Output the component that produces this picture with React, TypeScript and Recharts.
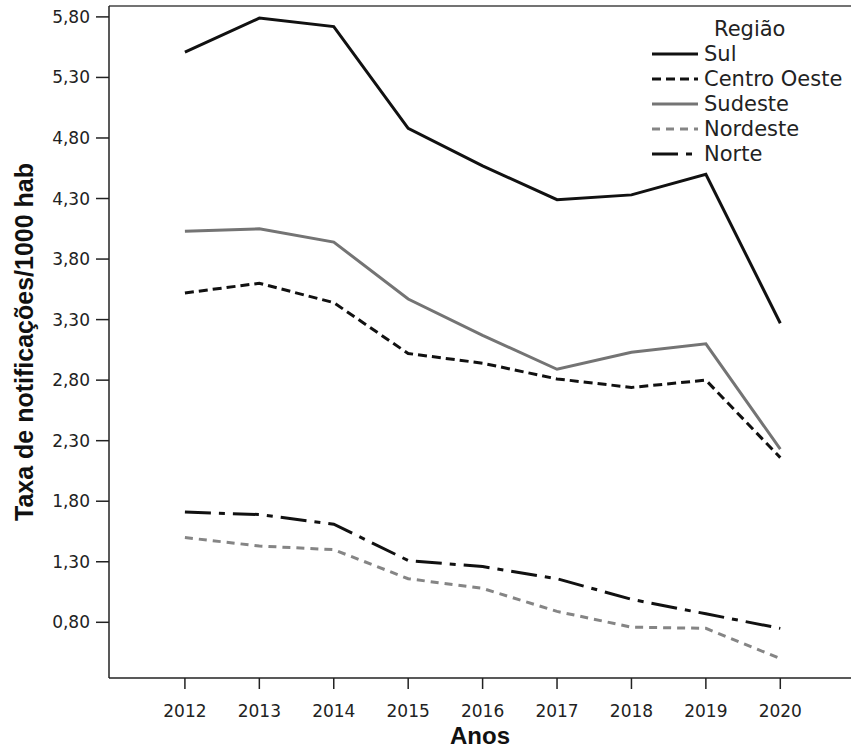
import React from 'react';
import {
  LineChart,
  Line,
  XAxis,
  YAxis,
  Legend,
  ReferenceLine,
} from 'recharts';

// anos e taxas por região
const years = [2012, 2013, 2014, 2015, 2016, 2017, 2018, 2019, 2020];
const sul = [5.51, 5.79, 5.72, 4.88, 4.57, 4.29, 4.33, 4.5, 3.27];
const centroOeste = [3.52, 3.6, 3.44, 3.02, 2.94, 2.81, 2.74, 2.8, 2.16];
const sudeste = [4.03, 4.05, 3.94, 3.47, 3.17, 2.89, 3.03, 3.1, 2.23];
const nordeste = [1.5, 1.43, 1.4, 1.16, 1.08, 0.89, 0.76, 0.75, 0.5];
const norte = [1.71, 1.69, 1.61, 1.31, 1.26, 1.16, 0.99, 0.87, 0.75];

const yTicks = [0.8, 1.3, 1.8, 2.3, 2.8, 3.3, 3.8, 4.3, 4.8, 5.3, 5.8];

const Y_MIN = 0.34;
const Y_MAX = 5.89;

const data = years.map((year, i) => ({
  year,
  sul: sul[i],
  centroOeste: centroOeste[i],
  sudeste: sudeste[i],
  nordeste: nordeste[i],
  norte: norte[i],
}));

const series = [
  { key: 'sul', name: 'Sul', color: '#111', dash: undefined },
  { key: 'centroOeste', name: 'Centro Oeste', color: '#111', dash: '9 5' },
  { key: 'sudeste', name: 'Sudeste', color: '#747474', dash: undefined },
  { key: 'nordeste', name: 'Nordeste', color: '#858585', dash: '8 6' },
  { key: 'norte', name: 'Norte', color: '#111', dash: '26 8 6 8' },
];

const FONT = '"DejaVu Sans", Verdana, sans-serif';
const TITLE_FONT = '"Liberation Sans", Arial, sans-serif';

const formatY = (v: number) => v.toFixed(2).replace('.', ',');

const renderLegend = () => (
  <div style={{ position: 'absolute', left: 0, top: 0, width: 220, fontFamily: FONT, color: '#222' }}>
    <div style={{ position: 'absolute', left: 66, top: 16, fontSize: 21, lineHeight: '26px' }}>Região</div>
    {series.map((s, i) => (
      <div
        key={s.key}
        style={{ position: 'absolute', left: 0, top: 42 + i * 25, height: 24, display: 'flex', alignItems: 'center', whiteSpace: 'nowrap' }}
      >
        <svg width={52} height={24}>
          <line x1={4} y1={12} x2={50} y2={12} stroke={s.color} strokeWidth={3} strokeDasharray={s.dash} />
        </svg>
        <span style={{ fontSize: 21, marginLeft: 4 }}>{s.name}</span>
      </div>
    ))}
  </div>
);

export default function App() {
  return (
    <div style={{ position: 'absolute', left: 0, top: 0, width: 851, height: 751, background: '#fff' }}>
      <LineChart width={851} height={751} data={data} margin={{ top: 6, right: 0, bottom: 0, left: 0 }}>
        <XAxis
          dataKey="year"
          type="number"
          domain={[2010.98, 2020.95]}
          ticks={years}
          allowDataOverflow
          height={73}
          tickSize={11}
          tickMargin={16}
          axisLine={{ stroke: '#222', strokeWidth: 1.5 }}
          tickLine={{ stroke: '#222', strokeWidth: 1.5 }}
          tick={{ fill: '#222', fontSize: 17, fontFamily: FONT }}
          label={{
            value: 'Anos',
            position: 'insideBottom',
            offset: 7,
            fill: '#111',
            fontSize: 24,
            fontWeight: 'bold',
            fontFamily: TITLE_FONT,
          }}
        />
        <YAxis
          type="number"
          domain={[Y_MIN, Y_MAX]}
          ticks={yTicks}
          allowDataOverflow
          width={109}
          tickSize={13}
          tickMargin={6}
          tickFormatter={formatY}
          axisLine={{ stroke: '#222', strokeWidth: 1.5 }}
          tickLine={{ stroke: '#222', strokeWidth: 1.5 }}
          tick={{ fill: '#222', fontSize: 17, fontFamily: FONT }}
          label={{
            value: 'Taxa de notificações/1000 hab',
            angle: -90,
            position: 'insideLeft',
            offset: 24,
            textAnchor: 'middle',
            fill: '#111',
            fontSize: 25,
            fontWeight: 'bold',
            fontFamily: TITLE_FONT,
          }}
        />
        <ReferenceLine y={Y_MAX} stroke="#444" strokeWidth={1.5} />
        <Legend
          content={renderLegend}
          layout="vertical"
          align="right"
          verticalAlign="top"
          wrapperStyle={{ left: 648, top: 0, width: 0, height: 0, overflow: 'visible' }}
        />
        {series.map((s) => (
          <Line
            key={s.key}
            type="linear"
            dataKey={s.key}
            name={s.name}
            stroke={s.color}
            strokeWidth={3}
            strokeDasharray={s.dash}
            dot={false}
            activeDot={false}
            isAnimationActive={false}
          />
        ))}
      </LineChart>
    </div>
  );
}
